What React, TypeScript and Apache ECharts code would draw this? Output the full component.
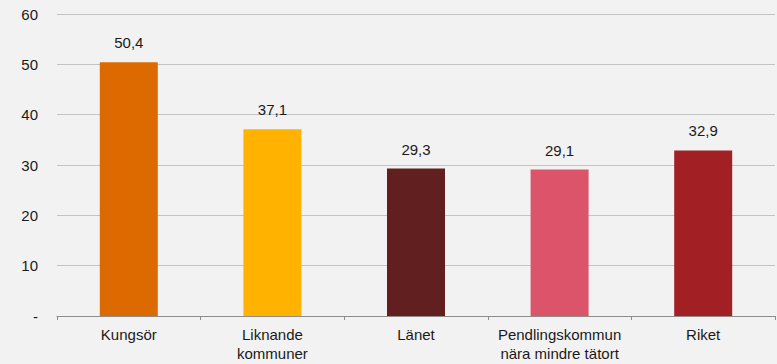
import React, { useEffect, useRef } from "react";
import * as echarts from "echarts";

const categories = ["Kungsör", "Liknande\nkommuner", "Länet", "Pendlingskommun\nnära mindre tätort", "Riket"];
const values = [50.4, 37.1, 29.3, 29.1, 32.9];
const barColors = ["#DD6A00", "#FFB300", "#61201F", "#DC546A", "#A22023"];

const fmt = (v: number) => v.toFixed(1).replace(".", ",");

export default function App() {
  const ref = useRef<HTMLDivElement>(null);

  useEffect(() => {
    if (!ref.current) return;
    const chart = echarts.init(ref.current, null, { renderer: "svg" });
    chart.setOption({
      animation: false,
      backgroundColor: "#F2F2F2",
      textStyle: { fontFamily: "Liberation Sans, Arial, sans-serif" },
      grid: { left: 57, right: 2, top: 14, bottom: 48, containLabel: false },
      xAxis: {
        type: "category",
        data: categories,
        axisLine: { lineStyle: { color: "#8C8C8C", width: 1 } },
        axisTick: { show: true, interval: 0, length: 4, lineStyle: { color: "#8C8C8C" } },
        axisLabel: { interval: 0, color: "#1A1A1A", fontSize: 15, lineHeight: 19, margin: 9 },
      },
      yAxis: {
        type: "value",
        min: 0,
        max: 60,
        interval: 10,
        axisLine: { show: false },
        axisTick: { show: false },
        axisLabel: {
          color: "#1A1A1A",
          fontSize: 15,
          margin: 19,
          formatter: (v: number) => (v === 0 ? "-" : String(v)),
        },
        splitLine: { lineStyle: { color: "#C3C3C3", width: 1 } },
      },
      series: [
        {
          type: "bar",
          barWidth: 58,
          data: values.map((v, i) => ({ value: v, itemStyle: { color: barColors[i] } })),
          label: {
            show: true,
            position: "top",
            distance: 12,
            color: "#1A1A1A",
            fontSize: 15,
            formatter: (p: any) => fmt(p.value),
          },
        },
      ],
    });
    return () => chart.dispose();
  }, []);

  return <div ref={ref} style={{ position: "fixed", left: 0, top: 0, width: 777, height: 364 }} />;
}
